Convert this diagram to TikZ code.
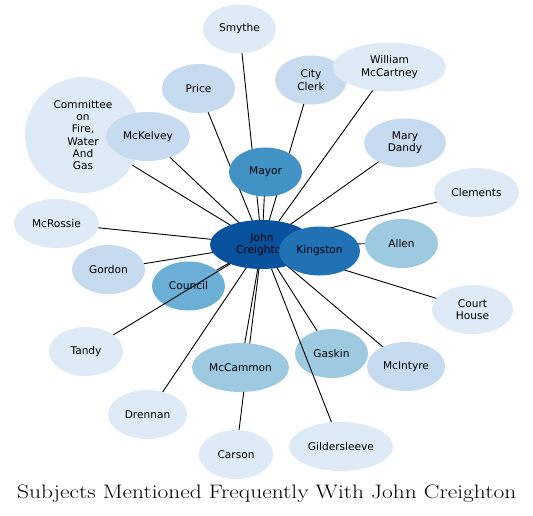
\documentclass[tikz,border=0pt]{standalone}
\usepackage{fontspec}
\newfontfamily\nodefont{DejaVu Sans}
\usetikzlibrary{shapes.geometric,backgrounds}
\definecolor{bA}{HTML}{DEEBF7}
\definecolor{bB}{HTML}{C6DBEF}
\definecolor{bC}{HTML}{9ECAE1}
\definecolor{bD}{HTML}{6BAED6}
\definecolor{bE}{HTML}{4292C6}
\definecolor{bF}{HTML}{2171B5}
\definecolor{bG}{HTML}{08519C}
\begin{document}
\begin{tikzpicture}[x=1pt,y=-1pt,
  nd/.style={ellipse, inner sep=0pt, minimum height=49pt, text=black, align=center,
    font=\nodefont\fontsize{10.6}{12.2}\selectfont},
  edge/.style={draw=black, line width=0.9pt}]
\useasboundingbox (0,0) rectangle (533,515);
% nodes
\node[nd, fill=bA, minimum width=73pt] (smythe) at (239.5,29) {Smythe};
\node[nd, fill=bB, minimum width=73pt] (price) at (198.5,88.5) {Price};
\node[nd, fill=bB, minimum width=72pt] (clerk) at (311,80) {City\\Clerk};
\node[nd, fill=bA, minimum width=113pt] (mccartney) at (389.5,67) {William\\McCartney};
\node[nd, fill=bA, minimum width=116pt, minimum height=116pt] (committee) at (83,135) {Committee\\on\\Fire,\\Water\\And\\Gas};
\node[nd, fill=bB, minimum width=84pt] (mckelvey) at (148,136.5) {McKelvey};
\node[nd, fill=bE, minimum width=73pt] (mayor) at (265.5,172) {Mayor};
\node[nd, fill=bB, minimum width=82pt] (dandy) at (405,143) {Mary\\Dandy};
\node[nd, fill=bA, minimum width=85pt] (clements) at (476.5,192.5) {Clements};
\node[nd, fill=bA, minimum width=85pt] (mcrossie) at (56.5,223.5) {McRossie};
\node[nd, fill=bG, minimum width=104pt] (jc) at (262,244.5) {John\\Creighton};
\node[nd, fill=bF, minimum width=81pt] (kingston) at (319.5,251) {Kingston};
\node[nd, fill=bC, minimum width=73pt] (allen) at (401.5,243.5) {Allen};
\node[nd, fill=bB, minimum width=73pt] (gordon) at (108.5,269.5) {Gordon};
\node[nd, fill=bD, minimum width=73pt] (council) at (188.5,286) {Council};
\node[nd, fill=bA, minimum width=81pt] (court) at (472.5,309.5) {Court\\House};
\node[nd, fill=bA, minimum width=74pt] (tandy) at (86,351.5) {Tandy};
\node[nd, fill=bC, minimum width=97pt] (mccammon) at (240.5,367.5) {McCammon};
\node[nd, fill=bC, minimum width=73pt] (gaskin) at (331.5,353.5) {Gaskin};
\node[nd, fill=bB, minimum width=78pt] (mcintyre) at (406,366.5) {McIntyre};
\node[nd, fill=bA, minimum width=79pt] (drennan) at (147.5,414.5) {Drennan};
\node[nd, fill=bA, minimum width=74pt] (carson) at (236,454.5) {Carson};
\node[nd, fill=bA, minimum width=104pt] (gilder) at (341,446.5) {Gildersleeve};
% edges behind nodes
\begin{pgfonlayer}{background}
\foreach \n in {smythe,price,clerk,mccartney,committee,mckelvey,mayor,dandy,clements,mcrossie,kingston,allen,gordon,council,court,mccammon,gaskin,mcintyre,drennan,carson}
  \draw[edge] (\n.center) -- (jc.center);
\end{pgfonlayer}
% edges drawn over nodes
\draw[edge] (tandy) -- (jc);
\draw[edge] (gilder) -- (jc);
% title
\node[anchor=base, inner sep=0pt, font=\fontsize{19.5}{22}\selectfont] (title) at (266.7,498.7) {\scalebox{1.20}[1]{Subjects Mentioned Frequently With John Creighton}};
\end{tikzpicture}
\end{document}
